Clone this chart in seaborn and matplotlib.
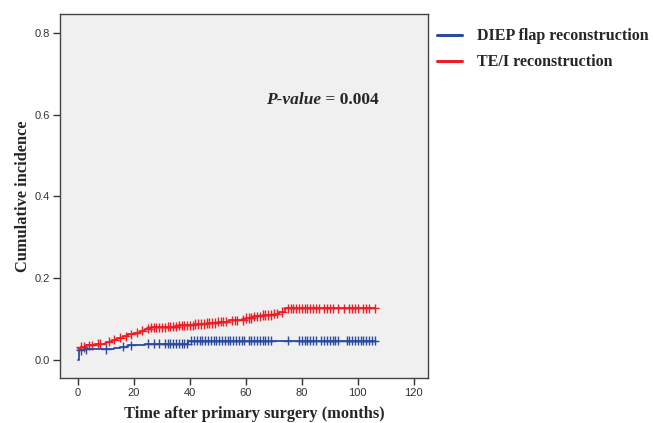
import numpy as np
import pandas as pd
import matplotlib.pyplot as plt
import seaborn as sns
from matplotlib.lines import Line2D

# step functions (time in months, cumulative incidence)
diep_t = [0, 0.4, 2, 13, 15, 18, 24, 39.5, 106]
diep_y = [0.0, 0.025, 0.027, 0.029, 0.033, 0.036, 0.040, 0.048, 0.048]
tei_t = [0, 1, 3, 6, 10, 12, 14, 16, 18, 20, 22, 24, 26, 32, 36, 42, 46, 50,
         54, 58, 60, 63, 66, 70, 72, 74, 106]
tei_y = [0.028, 0.032, 0.036, 0.040, 0.045, 0.050, 0.055, 0.058, 0.063, 0.067,
         0.072, 0.077, 0.080, 0.082, 0.085, 0.088, 0.091, 0.094, 0.097, 0.098,
         0.103, 0.107, 0.110, 0.114, 0.118, 0.127, 0.127]

# censoring marks
diep_cens = [1, 3, 10, 16, 19, 25, 27, 29, 31, 32, 33, 34, 35, 36, 37, 38, 39,
             40.5, 41.5, 42.5, 43.5, 44.5, 45.5, 46.5, 47.5, 48.5, 49.5, 50.5,
             51.5, 52.5, 53.5, 54.5, 55.5, 56.5, 57.5, 58.5, 59.5, 61, 62, 63,
             64, 65, 66, 67, 68, 69, 75, 79, 80, 81, 82, 83, 84, 85, 87, 88,
             89, 90, 91, 92, 93, 96, 97, 98, 99, 100, 101, 102, 103, 104, 105, 106]
tei_cens = [1, 2, 4, 5, 7, 8, 11, 13, 15, 17, 19, 21, 23, 25, 26, 27, 28, 29,
            30, 31, 32, 33, 34, 35, 36, 37, 38, 39, 40, 41, 42, 43, 44, 45, 46,
            47, 48, 49, 50, 51, 52, 53, 55, 56, 57, 59, 60, 61, 62, 63, 64, 65,
            66, 67, 68, 69, 70, 71, 73, 75, 76, 77, 78, 79, 80, 81, 82, 83, 84,
            85, 86, 88, 89, 90, 91, 93, 95, 97, 98, 99, 100, 102, 103, 104, 106]

groups = ["DIEP flap reconstruction", "TE/I reconstruction"]
colors = {"DIEP flap reconstruction": "#2B4C9E", "TE/I reconstruction": "#EE1C25"}


def step_at(ts, ys, x):
    i = np.searchsorted(ts, x, side="right") - 1
    return np.asarray(ys)[i]


lines = pd.concat([
    pd.DataFrame({"time": diep_t, "inc": diep_y, "group": groups[0]}),
    pd.DataFrame({"time": tei_t, "inc": tei_y, "group": groups[1]}),
])
cens = pd.concat([
    pd.DataFrame({"time": diep_cens, "inc": step_at(diep_t, diep_y, diep_cens), "group": groups[0]}),
    pd.DataFrame({"time": tei_cens, "inc": step_at(tei_t, tei_y, tei_cens), "group": groups[1]}),
])

sns.set_style("ticks")
plt.rcParams["font.family"] = ["Liberation Sans", "DejaVu Sans"]
serif = ["Liberation Serif", "DejaVu Serif"]

fig = plt.figure(figsize=(6.53, 4.23), dpi=100)
ax = fig.add_axes([0.092, 0.106, 0.563, 0.861])
ax.set_facecolor("#F0F0F0")

sns.lineplot(data=lines, x="time", y="inc", hue="group", palette=colors,
             drawstyle="steps-post", estimator=None, sort=False, lw=1.3,
             legend=False, ax=ax)
sns.scatterplot(data=cens, x="time", y="inc", hue="group", palette=colors,
                marker="+", s=45, linewidth=1.0, legend=False, ax=ax)

ax.set_xlim(-6.4, 125)
ax.set_ylim(-0.044, 0.846)
ax.set_xticks([0, 20, 40, 60, 80, 100, 120])
ax.set_yticks([0.0, 0.2, 0.4, 0.6, 0.8])
ax.set_yticklabels(["0.0", "0.2", "0.4", "0.6", "0.8"])
ax.tick_params(direction="out", length=5, width=1, pad=2, color="#333333",
               labelsize=8, labelcolor="#333333")
for s in ax.spines.values():
    s.set_color("#444444")
    s.set_linewidth(1)

ax.set_xlabel("Time after primary surgery (months)", family=serif,
              fontweight="bold", fontsize=11.8)
ax.set_ylabel("Cumulative incidence", family=serif, fontweight="bold",
              fontsize=11.8)
ax.xaxis.set_label_coords(0.527, -0.076)
ax.yaxis.set_label_coords(-0.08, 0.5)

ax.text(87, 0.636, "P-value", family=serif, fontweight="bold",
        fontstyle="italic", fontsize=12.5, ha="right", va="center")
ax.text(87, 0.636, " = 0.004", family=serif, fontweight="bold",
        fontsize=12.5, ha="left", va="center")

handles = [Line2D([0], [0], color=colors[g], lw=2.2) for g in groups]
fig.legend(handles, groups, loc="upper left", bbox_to_anchor=(0.669, 0.933),
           frameon=False, borderpad=0, borderaxespad=0,
           handlelength=1.56, handletextpad=0.94, labelspacing=0.62,
           prop={"family": serif, "weight": "bold", "size": 11.5})

fig.savefig("out.png", dpi=100)
